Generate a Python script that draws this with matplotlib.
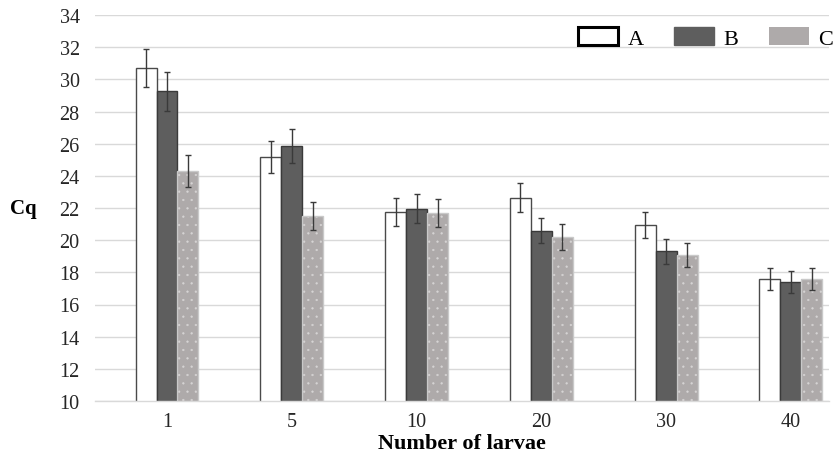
import numpy as np
import matplotlib
matplotlib.use("Agg")
import matplotlib.pyplot as plt
from matplotlib.patches import Patch

# data
categories = ["1", "5", "10", "20", "30", "40"]
a_vals = [30.7, 25.15, 21.75, 22.65, 20.95, 17.6]
a_err = [1.2, 1.0, 0.87, 0.9, 0.83, 0.7]
b_vals = [29.25, 25.85, 21.95, 20.6, 19.3, 17.4]
b_err = [1.2, 1.05, 0.9, 0.8, 0.77, 0.7]
c_vals = [24.3, 21.5, 21.7, 20.2, 19.1, 17.6]
c_err = [1.0, 0.85, 0.87, 0.8, 0.75, 0.7]
series_names = ["A", "B", "C"]

plt.rcParams["font.family"] = ["Liberation Serif", "DejaVu Serif"]
plt.rcParams["hatch.color"] = "#d6d4d4"
plt.rcParams["hatch.linewidth"] = 0.4

fig = plt.figure(figsize=(8.37, 4.56), dpi=100)
ax = fig.add_axes([95 / 837, 54 / 456, 734 / 837, 386 / 456])

x = np.arange(len(categories))
w = 0.168
err_kw = dict(ecolor="#3a3a3a", elinewidth=1.0, capsize=2.3, capthick=1.0)

ax.bar(x - w, a_vals, w, color="white", edgecolor="#4a4a4a", linewidth=1.0, zorder=2)
ax.errorbar(x - w, a_vals, yerr=a_err, fmt="none", zorder=3, **err_kw)

ax.bar(x, b_vals, w, color="#5e5e5e", edgecolor="#3a3a3a", linewidth=1.0, zorder=2)
ax.errorbar(x, b_vals, yerr=b_err, fmt="none", zorder=3, **err_kw)

# dotted bars: light hatch, then an outline on top
ax.bar(x + w, c_vals, w, color="#aeaaaa", hatch="..", zorder=2)
ax.bar(x + w, c_vals, w, fill=False, edgecolor="#c9c9c9", linewidth=1.0, zorder=2)
ax.errorbar(x + w, c_vals, yerr=c_err, fmt="none", zorder=3, **err_kw)

ax.set_ylim(10, 34)
ax.set_yticks(np.arange(10, 35, 2))
ax.set_xlim(-0.577, 5.305)
ax.set_xticks(x)
ax.set_xticklabels(categories)
ax.tick_params(length=0, labelsize=14.5, colors="#262626")
ax.tick_params(axis="x", pad=8)
ax.tick_params(axis="y", pad=11)

ax.grid(axis="y", color="#d9d9d9", linewidth=1.0, zorder=0)
ax.set_axisbelow(True)
for s in ["top", "right", "left"]:
    ax.spines[s].set_visible(False)
ax.spines["bottom"].set_color("#d9d9d9")
ax.spines["bottom"].set_linewidth(1.0)

ax.set_ylabel("Cq", fontsize=15, fontweight="bold", rotation=0, ha="center", va="center")
ax.yaxis.set_label_coords(-0.098, 0.5)
ax.set_xlabel("Number of larvae", fontsize=16, fontweight="bold", va="center")
ax.xaxis.set_label_coords(0.5, -0.108)

handles = [
    Patch(facecolor="white", edgecolor="black", linewidth=2.2),
    Patch(facecolor="#5e5e5e", edgecolor="#5e5e5e"),
    Patch(facecolor="#aeaaaa", hatch="..", edgecolor="none"),
]
leg = ax.legend(handles, series_names, ncol=3, loc="center right",
                bbox_to_anchor=(1.006, 0.94), frameon=False, fontsize=16,
                handlelength=1.8, handleheight=0.85, handletextpad=0.45,
                columnspacing=1.35, borderaxespad=0, borderpad=0)

fig.savefig("out.png", dpi=100)
